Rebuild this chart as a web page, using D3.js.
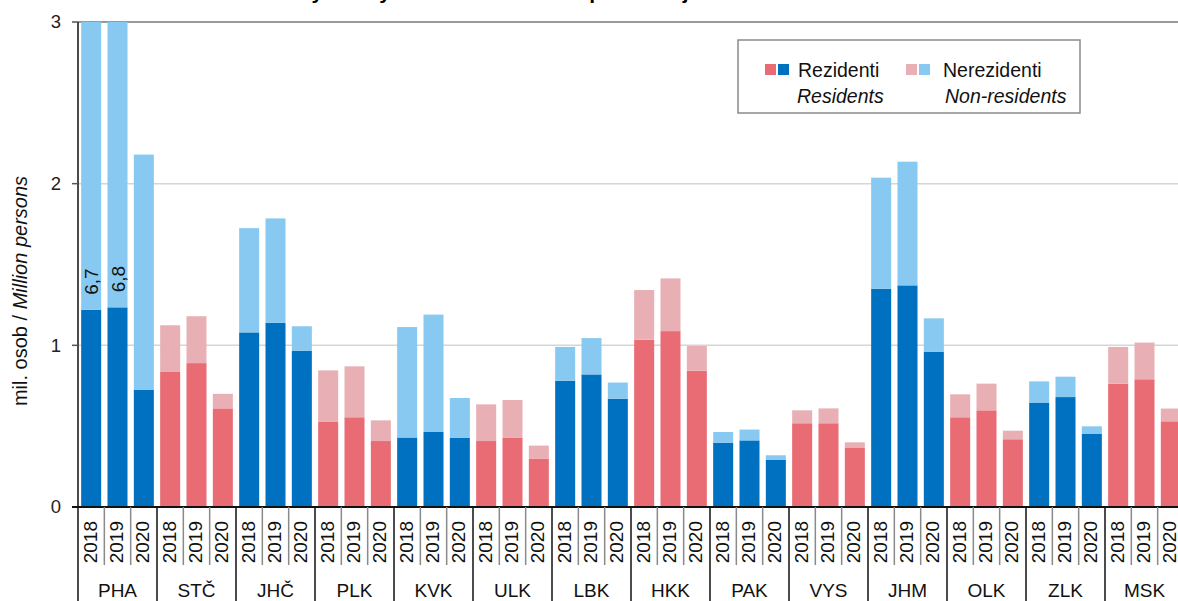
<!DOCTYPE html>
<html>
<head>
<meta charset="utf-8">
<script src="https://d3js.org/d3.v7.min.js"></script>
<style>
	body { margin: 0; background: #fff; }
	svg { display: block; font-family: "Liberation Sans", Arial, sans-serif; }
</style>
</head>
<body>
<div id="chart"></div>
<script>
var regions = ['PHA', 'STČ', 'JHČ', 'PLK', 'KVK', 'ULK', 'LBK', 'HKK', 'PAK', 'VYS', 'JHM', 'OLK', 'ZLK', 'MSK'];
var years = ['2018', '2019', '2020'];

// mil. osob, po krajích, 2018 / 2019 / 2020
var residents = [
	[1.22, 1.235, 0.726],
	[0.835, 0.89, 0.61],
	[1.08, 1.14, 0.967],
	[0.526, 0.555, 0.408],
	[0.43, 0.464, 0.427],
	[0.408, 0.427, 0.30],
	[0.78, 0.82, 0.67],
	[1.035, 1.088, 0.843],
	[0.398, 0.412, 0.293],
	[0.518, 0.518, 0.365],
	[1.35, 1.371, 0.961],
	[0.555, 0.598, 0.419],
	[0.646, 0.68, 0.454],
	[0.763, 0.79, 0.53]
];
var nonResidents = [
	[5.48, 5.565, 1.454],
	[0.289, 0.29, 0.09],
	[0.645, 0.645, 0.151],
	[0.319, 0.315, 0.128],
	[0.683, 0.726, 0.247],
	[0.227, 0.235, 0.08],
	[0.21, 0.225, 0.10],
	[0.307, 0.326, 0.153],
	[0.066, 0.067, 0.027],
	[0.08, 0.092, 0.035],
	[0.687, 0.765, 0.206],
	[0.142, 0.165, 0.053],
	[0.131, 0.126, 0.045],
	[0.227, 0.227, 0.079]
];
// celkové hodnoty nad osou (PHA)
var overflowLabels = [['PHA', '2018', '6,7'], ['PHA', '2019', '6,8']];
var blueRegions = ['PHA', 'JHČ', 'KVK', 'LBK', 'PAK', 'JHM', 'ZLK'];
var yTicks = [0, 1, 2, 3];

var width = 1178,
	height = 601;

var COLORS = {
	blue: ['#0070c0', '#88c9f1'],
	red: ['#e96b74', '#e8b0b4']
};

var svg = d3.select('#chart')
	.append('svg')
	.attr('width', width)
	.attr('height', height);

var y = d3.scaleLinear()
	.domain([0, 3])
	.range([507, 22]);

var x0 = d3.scaleBand()
	.domain(regions)
	.range([78, 78 + 14 * 79]);

var x1 = d3.scaleBand()
	.domain(years)
	.range([0, x0.bandwidth()]);

var barW = x1.bandwidth() * 0.76;

// titulek (oříznutý horním okrajem)
svg.append('text')
	.attr('x', 140)
	.attr('y', -1)
	.attr('font-size', 21)
	.attr('font-weight', 'bold')
	.text('Hosté v hromadných ubytovacích zařízeních podle krajů');

// mřížka
svg.append('g')
	.selectAll('line')
	.data(yTicks.filter(d => d > 0))
	.enter()
	.append('line')
	.attr('x1', 78)
	.attr('x2', width)
	.attr('y1', d => y(d))
	.attr('y2', d => y(d))
	.attr('stroke', d => d === 3 ? '#9a9a9a' : '#d6d6d6')
	.attr('stroke-width', d => d === 3 ? 2 : 1.5);

svg.append('clipPath')
	.attr('id', 'plot')
	.append('rect')
	.attr('x', 78)
	.attr('y', y(3))
	.attr('width', width)
	.attr('height', y(0) - y(3));

var rows = [];
regions.forEach(function(r, i) {
	years.forEach(function(yr, j) {
		rows.push({region: r, year: yr, res: residents[i][j], non: nonResidents[i][j]});
	});
});

var bars = svg.append('g')
	.attr('clip-path', 'url(#plot)')
	.selectAll('g')
	.data(rows)
	.enter()
	.append('g')
	.attr('transform', d => 'translate(' + (x0(d.region) + x1(d.year) + (x1.bandwidth() - barW) / 2) + ',0)');

function pal(d) {
	return blueRegions.indexOf(d.region) >= 0 ? COLORS.blue : COLORS.red;
}

bars.append('rect')
	.attr('width', barW)
	.attr('y', d => y(d.res))
	.attr('height', d => y(0) - y(d.res))
	.attr('fill', d => pal(d)[0]);

bars.append('rect')
	.attr('width', barW)
	.attr('y', d => y(d.res + d.non))
	.attr('height', d => y(d.res) - y(d.res + d.non))
	.attr('fill', d => pal(d)[1]);

// popisky hodnot přesahujících osu
svg.append('g')
	.selectAll('text')
	.data(overflowLabels)
	.enter()
	.append('text')
	.attr('transform', function(d) {
		var i = regions.indexOf(d[0]), j = years.indexOf(d[1]);
		var cx = x0(d[0]) + x1(d[1]) + x1.bandwidth() / 2;
		return 'translate(' + (cx + 7) + ',' + (y(residents[i][j]) - 15) + ') rotate(-90)';
	})
	.attr('font-size', 19)
	.attr('fill', '#111')
	.text(d => d[2]);

// osa y
svg.append('line')
	.attr('x1', 78).attr('x2', 78)
	.attr('y1', y(3)).attr('y2', height)
	.attr('stroke', '#111')
	.attr('stroke-width', 1.5);

var yAxis = svg.append('g');
yAxis.selectAll('line')
	.data(yTicks)
	.enter()
	.append('line')
	.attr('x1', 72).attr('x2', 78)
	.attr('y1', d => y(d)).attr('y2', d => y(d))
	.attr('stroke', '#555')
	.attr('stroke-width', 1.5);
yAxis.selectAll('text')
	.data(yTicks)
	.enter()
	.append('text')
	.attr('x', 61)
	.attr('y', d => y(d))
	.attr('dy', '0.35em')
	.attr('text-anchor', 'end')
	.attr('font-size', 18.5)
	.attr('fill', '#222')
	.text(d => d);

var yTitle = svg.append('text')
	.attr('transform', 'translate(27,291) rotate(-90)')
	.attr('text-anchor', 'middle')
	.attr('font-size', 20)
	.attr('fill', '#111');
yTitle.append('tspan').text('mil. osob / ');
yTitle.append('tspan').attr('font-style', 'italic').text('Million persons');

// osa x
svg.append('line')
	.attr('x1', 72).attr('x2', width)
	.attr('y1', y(0)).attr('y2', y(0))
	.attr('stroke', '#111')
	.attr('stroke-width', 2);

var groups = svg.append('g')
	.selectAll('g')
	.data(regions)
	.enter()
	.append('g')
	.attr('transform', d => 'translate(' + x0(d) + ',0)');

groups.selectAll('line.yr')
	.data(years.slice(1))
	.enter()
	.append('line')
	.attr('x1', d => x1(d)).attr('x2', d => x1(d))
	.attr('y1', y(0)).attr('y2', 565)
	.attr('stroke', '#8a8a8a')
	.attr('stroke-width', 1.5);

groups.append('line')
	.attr('x1', x0.bandwidth()).attr('x2', x0.bandwidth())
	.attr('y1', y(0)).attr('y2', height)
	.attr('stroke', '#111')
	.attr('stroke-width', 1.5);

groups.selectAll('text.yr')
	.data(years)
	.enter()
	.append('text')
	.attr('transform', d => 'translate(' + (x1(d) + x1.bandwidth() / 2 - 1) + ',521) rotate(-90)')
	.attr('text-anchor', 'end')
	.attr('dy', '0.35em')
	.attr('font-size', 19)
	.attr('fill', '#111')
	.text(d => d);

groups.append('text')
	.attr('x', x0.bandwidth() / 2)
	.attr('y', 597)
	.attr('text-anchor', 'middle')
	.attr('font-size', 19)
	.attr('fill', '#111')
	.text(d => d);

// legenda
var legend = svg.append('g');
legend.append('rect')
	.attr('x', 738).attr('y', 40)
	.attr('width', 342).attr('height', 73)
	.attr('fill', '#fff')
	.attr('stroke', '#8a8a8a')
	.attr('stroke-width', 1.5);

var legendItems = [
	{x: 765, colors: [COLORS.red[0], COLORS.blue[0]], cz: 'Rezidenti', en: 'Residents', tx: 798, ex: 797},
	{x: 906, colors: [COLORS.red[1], COLORS.blue[1]], cz: 'Nerezidenti', en: 'Non-residents', tx: 943, ex: 945}
];
var li = legend.selectAll('g.item')
	.data(legendItems)
	.enter()
	.append('g');
li.selectAll('rect')
	.data(d => d.colors.map((c, k) => ({c: c, x: d.x + k * 13})))
	.enter()
	.append('rect')
	.attr('x', d => d.x).attr('y', 64)
	.attr('width', 11).attr('height', 11)
	.attr('fill', d => d.c);
li.append('text')
	.attr('x', d => d.tx).attr('y', 77)
	.attr('font-size', 19.5)
	.attr('fill', '#111')
	.text(d => d.cz);
li.append('text')
	.attr('x', d => d.ex).attr('y', 103)
	.attr('font-size', 19.5)
	.attr('font-style', 'italic')
	.attr('fill', '#111')
	.text(d => d.en);
</script>
</body>
</html>
